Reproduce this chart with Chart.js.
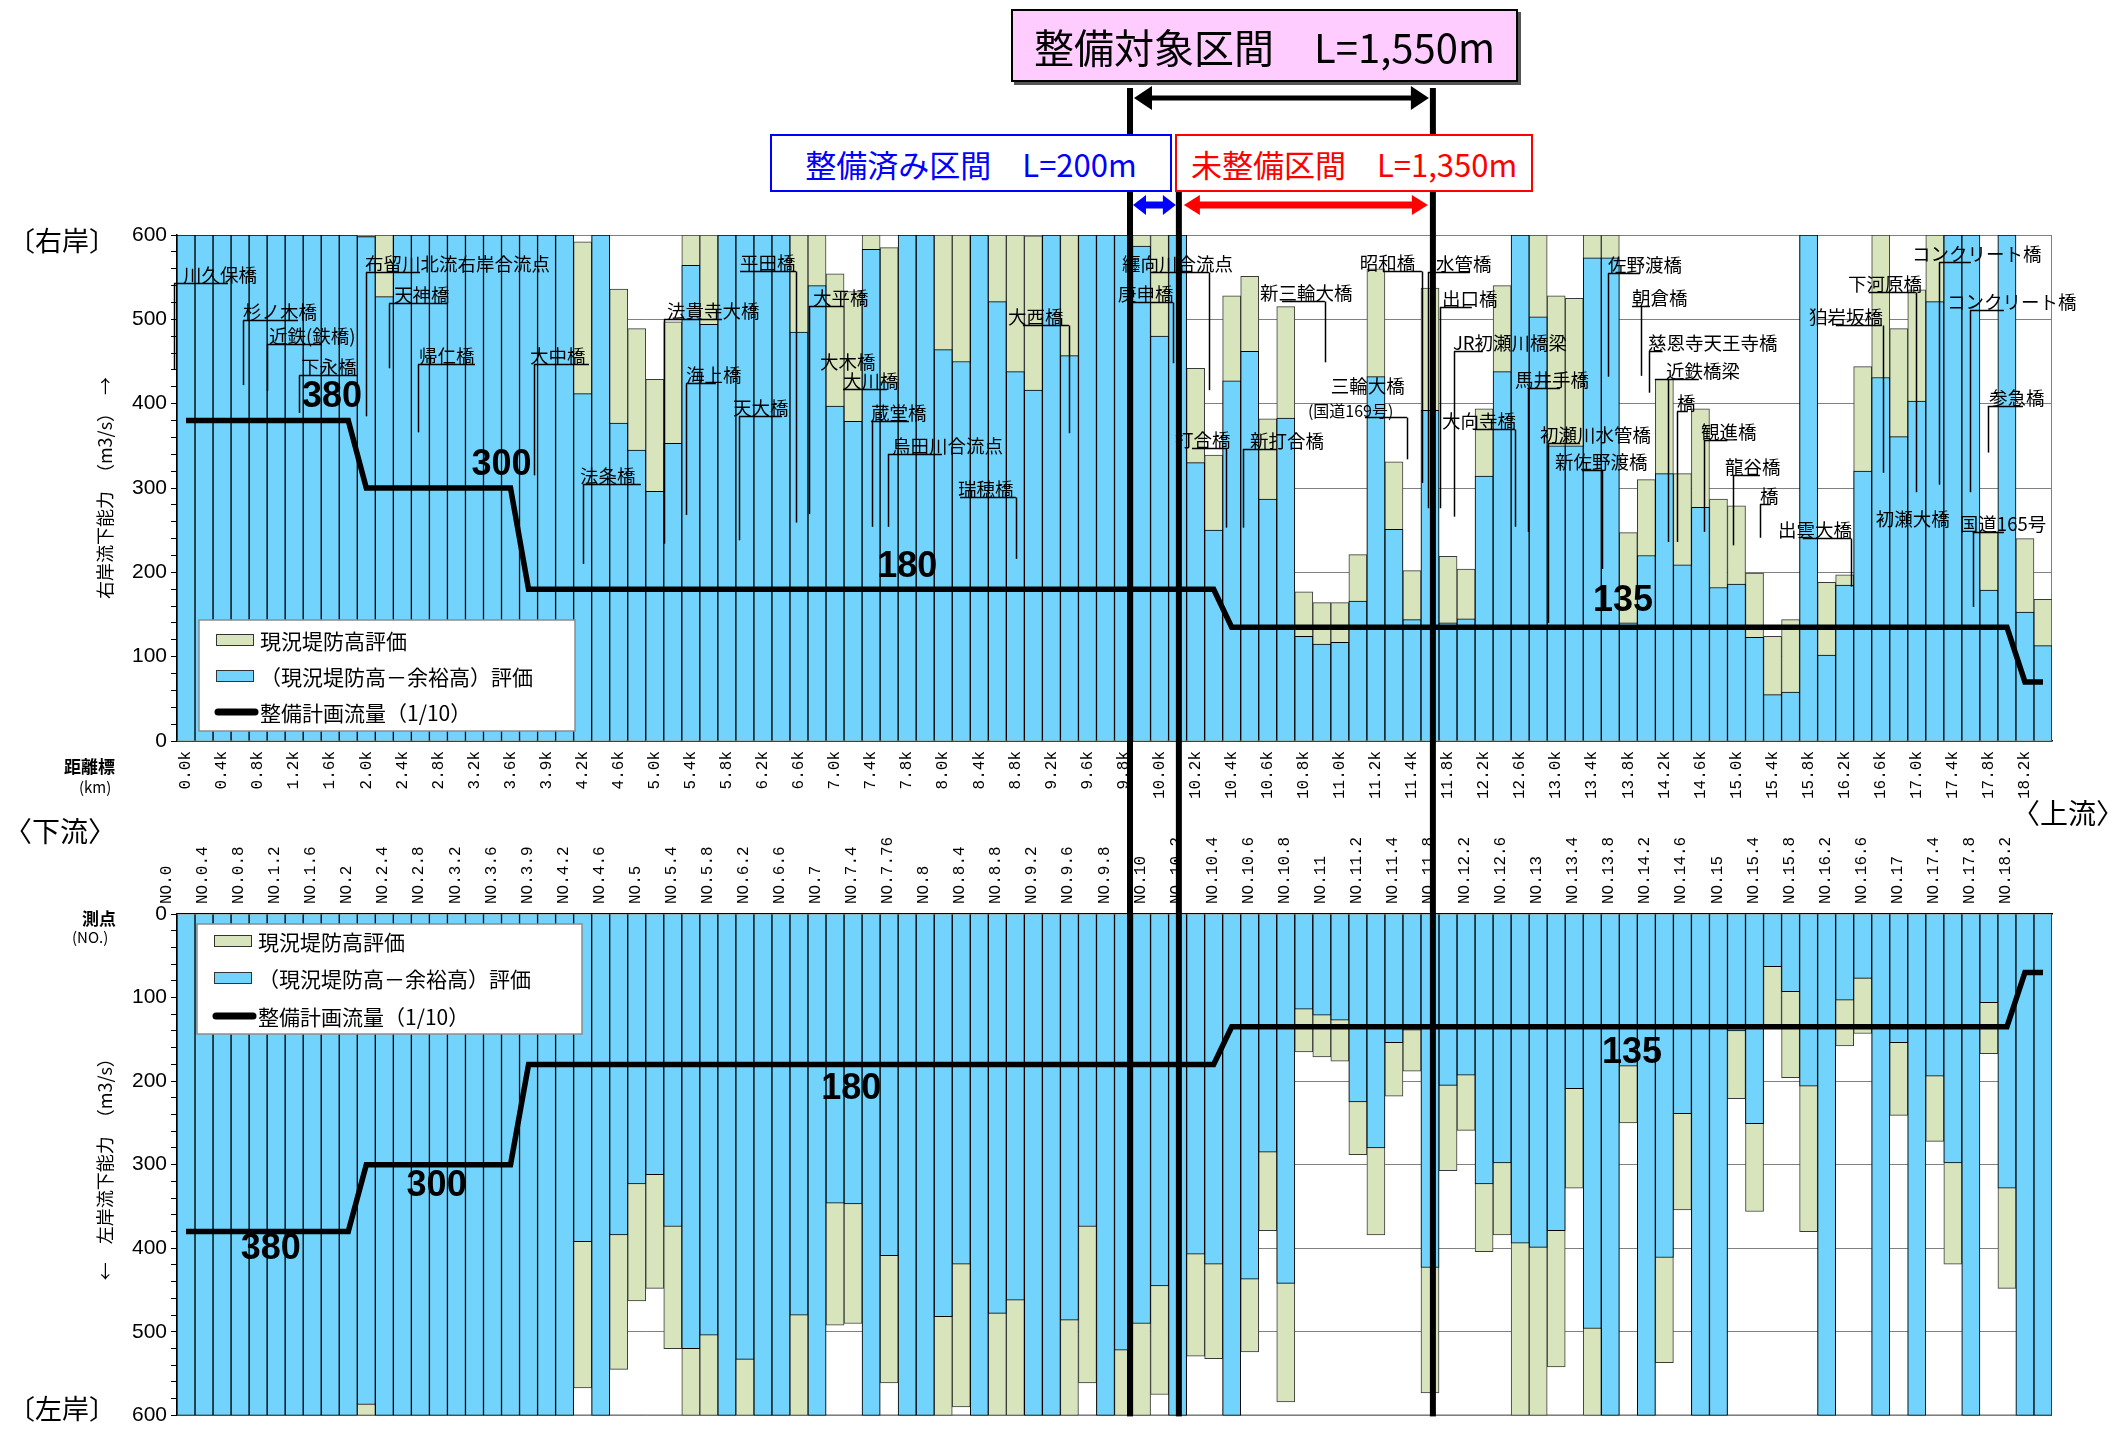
<!DOCTYPE html>
<html lang="ja">
<head>
<meta charset="utf-8">
<title>流下能力図</title>
<script src="https://cdn.jsdelivr.net/npm/chart.js@4.4.1/dist/chart.umd.min.js"></script>
<style>
  html, body { margin: 0; padding: 0; background: #fff; }
  body { position: relative; width: 2110px; height: 1432px; overflow: hidden;
         font-family: "Noto Sans CJK JP", "Noto Sans", sans-serif; color: #000; }
  canvas { position: absolute; left: 0; }
  #rightChart { top: 200px; }
  #leftChart { top: 820px; }
  #overlay { top: 0; z-index: 5; pointer-events: none; }
  .box { position: absolute; box-sizing: border-box; display: flex; align-items: center;
         justify-content: center; background: #fff; white-space: nowrap; z-index: 6; line-height: 1; }
  #target { left: 1011px; top: 9px; width: 507px; height: 73px; background: #ffccff;
            border: 2px solid #000; box-shadow: 3px 3px 0 #555; font-size: 40px; }
  #done { left: 770px; top: 134px; width: 402px; height: 58px; border: 2px solid #0000ff;
          color: #0000ff; font-size: 31px; }
  #todo { left: 1175px; top: 134px; width: 358px; height: 58px; border: 2px solid #ff0000;
          color: #ff0000; font-size: 31px; }
  .side { position: absolute; line-height: 1; white-space: nowrap; }
</style>
</head>
<body>
<canvas id="rightChart" width="2110" height="620"></canvas>
<canvas id="leftChart" width="2110" height="612"></canvas>
<canvas id="overlay" width="2110" height="1432"></canvas>

<div class="box" id="target">整備対象区間　L=1,550m</div>
<div class="box" id="done">整備済み区間　L=200m</div>
<div class="box" id="todo">未整備区間　L=1,350m</div>

<div class="side" style="left:8px;top:226px;font-size:27px;">〔右岸〕</div>
<div class="side" style="left:8px;top:1394px;font-size:27px;">〔左岸〕</div>
<div class="side" style="left:4px;top:816px;font-size:28px;">〈下流〉</div>
<div class="side" style="left:2012px;top:798px;font-size:28px;">〈上流〉</div>
<div class="side" style="left:64px;top:757px;font-size:17px;font-weight:bold;">距離標</div>
<div class="side" style="left:79px;top:779px;font-size:15px;">(km)</div>
<div class="side" style="left:82px;top:909px;font-size:17px;font-weight:bold;">測点</div>
<div class="side" style="left:72px;top:929px;font-size:15px;">(NO.)</div>

<script>
// 距離標（2区間ごとに表示）
const kmTicks = ['0.0k','0.4k','0.8k','1.2k','1.6k','2.0k','2.4k','2.8k','3.2k','3.6k',
  '3.9k','4.2k','4.6k','5.0k','5.4k','5.8k','6.2k','6.6k','7.0k','7.4k',
  '7.8k','8.0k','8.4k','8.8k','9.2k','9.6k','9.8k','10.0k','10.2k','10.4k',
  '10.6k','10.8k','11.0k','11.2k','11.4k','11.8k','12.2k','12.6k','13.0k','13.4k',
  '13.8k','14.2k','14.6k','15.0k','15.4k','15.8k','16.2k','16.6k','17.0k','17.4k',
  '17.8k','18.2k'];

// 測点
const noTicks = ['NO.0','NO.0.4','NO.0.8','NO.1.2','NO.1.6','NO.2','NO.2.4','NO.2.8','NO.3.2','NO.3.6',
  'NO.3.9','NO.4.2','NO.4.6','NO.5','NO.5.4','NO.5.8','NO.6.2','NO.6.6','NO.7','NO.7.4',
  'NO.7.76','NO.8','NO.8.4','NO.8.8','NO.9.2','NO.9.6','NO.9.8','NO.10','NO.10.2','NO.10.4',
  'NO.10.6','NO.10.8','NO.11','NO.11.2','NO.11.4','NO.11.8','NO.12.2','NO.12.6','NO.13','NO.13.4',
  'NO.13.8','NO.14.2','NO.14.6','NO.15','NO.15.4','NO.15.8','NO.16.2','NO.16.6','NO.17','NO.17.4',
  'NO.17.8','NO.18.2'];

// 整備計画流量（1/10） m3/s
const planFlow = [
  380,380,380,380,380,380,380,380,380,380,
  300,300,300,300,300,300,300,300,300,180,
  180,180,180,180,180,180,180,180,180,180,
  180,180,180,180,180,180,180,180,180,180,
  180,180,180,180,180,180,180,180,180,180,
  180,180,180,180,180,180,180,180,135,135,
  135,135,135,135,135,135,135,135,135,135,
  135,135,135,135,135,135,135,135,135,135,
  135,135,135,135,135,135,135,135,135,135,
  135,135,135,135,135,135,135,135,135,135,
  135,135,70,70];

// 右岸 （現況堤防高－余裕高）評価
const rightMargin = [
  600,600,600,600,600,600,600,600,600,600,
  598,527,600,600,600,600,600,600,600,600,
  600,600,412,600,377,345,296,353,564,494,
  600,600,600,600,485,540,397,379,583,426,
  600,600,464,450,600,521,438,416,600,457,
  600,600,600,587,480,600,330,250,427,462,
  287,383,124,115,117,166,432,251,144,392,
  140,145,314,438,600,503,350,350,573,573,
  140,220,317,209,277,182,186,123,55,58,
  600,102,185,320,431,361,403,521,600,600,
  179,600,153,113];

// 右岸 現況堤防高評価
const rightLevee = [
  600,600,600,600,600,600,600,600,600,600,
  598,600,600,600,600,600,600,600,600,600,
  600,600,592,600,536,489,429,497,600,600,
  600,600,600,600,600,600,554,533,600,585,
  600,600,600,600,600,600,600,599,600,600,
  600,600,600,600,600,600,442,339,528,551,
  382,515,177,164,164,221,560,331,202,537,
  219,204,394,540,600,600,528,525,600,600,
  247,310,429,317,394,287,279,199,124,144,
  600,188,197,444,600,489,535,600,600,600,
  248,600,240,168];

// 左岸 （現況堤防高－余裕高）評価
const leftMargin = [
  600,600,600,600,600,600,600,600,600,600,
  587,600,600,600,600,600,600,600,600,600,
  600,600,392,600,384,323,312,374,520,504,
  600,533,600,600,480,600,346,347,600,409,
  600,600,482,419,600,478,462,600,600,486,
  374,600,522,490,445,600,407,419,600,437,
  285,442,114,121,127,225,280,154,139,423,
  205,193,323,298,394,399,379,209,496,600,
  182,600,411,239,600,600,140,251,63,93,
  206,600,103,77,600,154,600,194,298,600,
  106,328,600,600];

// 左岸 現況堤防高評価
const leftLevee = [
  600,600,600,600,600,600,600,600,600,600,
  600,600,600,600,600,600,600,600,600,600,
  600,600,567,600,545,463,448,520,600,600,
  600,600,600,600,600,600,492,490,600,561,
  600,600,600,590,600,600,600,600,600,600,
  561,600,600,600,575,600,529,532,600,524,
  379,584,165,171,176,288,384,218,188,573,
  307,259,404,384,600,600,542,328,600,600,
  250,600,537,354,600,600,221,356,137,196,
  380,600,158,143,600,241,600,272,419,600,
  167,448,600,600];

// 区間境界（測点位置）: 整備対象区間始点, 整備済み区間終点, 整備対象区間終点
const sectionBounds = [52.36, 55.07, 69.16];

// 流量ラベル [文字, 測点位置, 値]
const rightLevels = [['380', 8.1, 408], ['300', 17.5, 327], ['180', 40.0, 206], ['135', 79.7, 166]];
const leftLevels = [['380', 4.7, 401], ['300', 13.9, 326], ['180', 36.9, 210], ['135', 80.2, 167]];

// 構造物名 [名称, 文字位置, 下線の値, 下線始点, 下線終点, 引出線位置, 引出線終点値, 文字サイズ]
const bridgeNotes = [
  ['川久保橋', -0.17, 543, -0.67, 2.33, -0.67, 440],
  ['杉ノ木橋', 3.16, 499, 3.16, 6.21, 3.16, 422],
  ['近鉄(鉄橋)', 4.6, 471, 4.49, 7.49, 4.49, 415],
  ['下永橋', 6.38, 434, 6.27, 9.48, 6.27, 389],
  ['布留川北流右岸合流点', 9.93, 556, 9.98, 12.98, 9.98, 385],
  ['天神橋', 11.54, 519, 11.26, 14.53, 11.26, 442],
  ['帰仁橋', 12.92, 447, 12.87, 16.03, 12.87, 366],
  ['大中橋', 19.08, 447, 19.3, 22.35, 19.3, 315],
  ['法条橋', 21.85, 305, 22.02, 25.23, 22.02, 210],
  ['法貴寺大橋', 26.68, 500, 26.51, 29.73, 26.51, 234],
  ['海上橋', 27.73, 425, 27.73, 29.39, 27.73, 268],
  ['天大橋', 30.34, 385, 30.67, 33.06, 30.67, 238],
  ['平田橋', 30.73, 557, 30.73, 33.83, 33.83, 259],
  ['大平橋', 34.77, 516, 34.55, 36.49, 34.55, 269],
  ['大木橋', 35.16, 440, null, null, null, null],
  ['大川橋', 36.44, 417, 36.44, 38.88, null, null],
  ['蔵堂橋', 37.99, 379, 37.99, 40.1, 38.05, 254],
  ['烏田川合流点', 39.16, 340, 38.93, 41.93, 38.93, 254],
  ['瑞穂橋', 42.82, 289, 42.93, 46.03, 46.03, 216],
  ['大西橋', 45.59, 493, 46.42, 48.97, 48.97, 365],
  ['纒向川合流点', 51.91, 556, 53.47, 56.74, 56.74, 416],
  ['庚申橋', 51.69, 521, 52.36, 54.74, 54.74, 448],
  ['打合橋', 54.85, 347, 55.8, 57.68, 57.68, 253],
  ['新打合橋', 59.01, 346, 58.62, 60.51, 58.62, 253],
  ['新三輪大橋', 59.57, 522, 60.79, 63.17, 63.17, 449],
  ['三輪大橋', 63.5, 412, null, null, null, null],
  ['(国道169号)', 62.23, 384, 65.39, 67.72, 67.72, 334, 16],
  ['昭和橋', 65.11, 557, 66.39, 68.55, 68.55, 306],
  ['水管橋', 69.33, 556, 68.88, 71.2, 68.88, 276],
  ['出口橋', 69.66, 515, 69.55, 71.32, 69.55, 276],
  ['JR初瀬川橋梁', 70.27, 462, 70.33, 71.93, 70.33, 266],
  ['大向寺橋', 69.66, 370, 71.49, 73.71, 73.71, 254],
  ['馬井手橋', 73.71, 419, 74.43, 76.2, 74.43, 248],
  ['初瀬川水管橋', 75.1, 353, 75.54, 77.31, 75.54, 140],
  ['新佐野渡橋', 75.93, 321, 77.42, 78.59, 78.53, 204],
  ['佐野渡橋', 78.87, 555, 78.87, 80.64, 78.87, 432],
  ['朝倉橋', 80.2, 516, 80.2, 81.2, 80.7, 433],
  ['慈恩寺天王寺橋', 81.09, 462, 81.14, 81.9, 81.14, 413],
  ['近鉄橋梁', 82.09, 429, 81.47, 83.91, 82.2, 236],
  ['橋', 82.7, 391, 82.7, 83.3, 82.7, 236],
  ['観進橋', 84.03, 357, 84.2, 85.5, 84.2, 248],
  ['龍谷橋', 85.36, 315, 85.8, 87.3, 85.8, 232],
  ['橋', 87.3, 281, 87.3, 87.9, 87.3, 241],
  ['出雲大橋', 88.3, 241, 89.68, 92.35, 92.35, 183],
  ['狛岩坂橋', 90.02, 493, 91.51, 94.06, 94.12, 318],
  ['下河原橋', 92.18, 532, 93.34, 95.95, 95.95, 295],
  ['コンクリート橋', 95.73, 568, 97.23, 99.0, 97.23, 304],
  ['コンクリート橋', 97.67, 511, 98.95, 100.83, 98.95, 295],
  ['参急橋', 100.0, 397, 99.94, 101.89, 99.94, 342],
  ['初瀬大橋', 93.73, 254, null, null, null, null],
  ['国道165号', 98.39, 248, 99.1, 100.83, 99.1, 159]
];

Chart.defaults.font.family = '"Noto Sans CJK JP", "Liberation Sans", sans-serif';
Chart.defaults.color = '#000';

const numFont = '"Liberation Sans Narrow", "Liberation Sans", Arial, sans-serif';

// 描画領域の枠
const frame = {
  id: 'frame',
  beforeDatasetsDraw(chart) {
    const { ctx, chartArea: a } = chart;
    ctx.save();
    ctx.strokeStyle = '#808080';
    ctx.lineWidth = 1;
    ctx.strokeRect(a.left + 0.5, a.top + 0.5, a.width - 1, a.height - 1);
    ctx.restore();
  }
};

// 枠付き凡例（グラフ内）
const boxLegend = {
  id: 'boxLegend',
  afterDraw(chart, args, o) {
    const { ctx, chartArea: a } = chart;
    const x = a.left + o.x, y = a.top + o.y;
    const ds = chart.data.datasets;
    const items = [ds[2], ds[1], ds[0]];
    ctx.save();
    ctx.fillStyle = '#fff';
    ctx.fillRect(x, y, o.w, o.h);
    ctx.strokeStyle = '#8c8c8c';
    ctx.lineWidth = 1.5;
    ctx.strokeRect(x, y, o.w, o.h);
    ctx.font = '21px "Noto Sans CJK JP"';
    ctx.textBaseline = 'middle';
    items.forEach((d, i) => {
      const cy = y + o.rows[i];
      if (d.type === 'line') {
        ctx.strokeStyle = d.borderColor;
        ctx.lineWidth = 7;
        ctx.lineCap = 'round';
        ctx.beginPath();
        ctx.moveTo(x + 19, cy);
        ctx.lineTo(x + 56, cy);
        ctx.stroke();
      } else {
        ctx.fillStyle = d.backgroundColor;
        ctx.fillRect(x + 17, cy - 6, 38, 12);
        ctx.strokeStyle = '#333';
        ctx.lineWidth = 1;
        ctx.strokeRect(x + 17.5, cy - 5.5, 37, 11);
      }
      ctx.fillStyle = '#000';
      ctx.fillText(d.label, x + 61, cy + 1);
    });
    ctx.restore();
  }
};

// 流量値ラベル
const levelLabels = {
  id: 'levelLabels',
  afterDatasetsDraw(chart, args, o) {
    const { ctx, scales: { x, y } } = chart;
    ctx.save();
    ctx.font = 'bold 36px ' + numFont;
    ctx.textAlign = 'center';
    ctx.textBaseline = 'middle';
    ctx.fillStyle = '#000';
    o.items.forEach(([t, i, v]) => ctx.fillText(t, x.getPixelForValue(i), y.getPixelForValue(v)));
    ctx.restore();
  }
};

// 構造物名と引出線
const notes = {
  id: 'notes',
  afterDatasetsDraw(chart, args, o) {
    if (!o.items) return;
    const { ctx, scales: { x, y } } = chart;
    ctx.save();
    ctx.fillStyle = '#000';
    ctx.strokeStyle = '#000';
    ctx.lineWidth = 1.5;
    ctx.textBaseline = 'bottom';
    o.items.forEach(([t, tx, uy, u1, u2, lx, ly, fs]) => {
      const py = Math.round(y.getPixelForValue(uy)) + 0.5;
      if (u1 !== null) {
        ctx.beginPath();
        ctx.moveTo(x.getPixelForValue(u1), py);
        ctx.lineTo(x.getPixelForValue(u2), py);
        ctx.stroke();
      }
      if (lx !== null) {
        const px = Math.round(x.getPixelForValue(lx)) + 0.5;
        ctx.beginPath();
        ctx.moveTo(px, py);
        ctx.lineTo(px, y.getPixelForValue(ly));
        ctx.stroke();
      }
      ctx.font = (fs || 18.5) + 'px "Noto Sans CJK JP"';
      ctx.fillText(t, x.getPixelForValue(tx), py + 1);
    });
    ctx.restore();
  }
};

function bankChart(id, ticks, margin, levee, cfg) {
  const labels = ticks.flatMap(t => [t, '']);
  return new Chart(document.getElementById(id), {
    type: 'bar',
    data: {
      labels,
      datasets: [
        { type: 'line', label: '整備計画流量（1/10）', data: planFlow, borderColor: '#000',
          borderWidth: 5.5, pointRadius: 0, tension: 0, order: 0 },
        { label: '（現況堤防高－余裕高）評価', data: margin, backgroundColor: '#72d4fd',
          borderColor: '#000', borderWidth: 1, order: 1 },
        { label: '現況堤防高評価', data: levee, backgroundColor: '#d8e4bc',
          borderColor: '#3a3a3a', borderWidth: 1, order: 2 }
      ]
    },
    options: {
      responsive: false,
      animation: false,
      devicePixelRatio: 1,
      layout: { padding: cfg.padding },
      datasets: { bar: { barPercentage: 1, categoryPercentage: 1 } },
      plugins: {
        legend: { display: false },
        tooltip: { enabled: false },
        boxLegend: cfg.legend,
        levelLabels: { items: cfg.levels },
        notes: { items: cfg.notes }
      },
      scales: {
        x: {
          stacked: true,
          position: cfg.xPos,
          grid: { display: false, drawTicks: false },
          border: { color: '#000', width: 1.5 },
          ticks: { autoSkip: false, minRotation: 90, maxRotation: 90, padding: 10,
                   font: { family: '"Liberation Mono", "DejaVu Sans Mono", monospace', size: 16 } },
          afterFit: s => { s.height = cfg.xHeight; }
        },
        y: {
          min: 0, max: 600,
          reverse: cfg.reverse,
          ticks: { stepSize: 20, autoSkip: false, padding: 4,
                   font: { family: numFont, size: 21 },
                   callback: v => (v % 100 === 0 ? v : '') },
          grid: { color: c => (c.tick && c.tick.value % 100 === 0 ? '#808080' : 'rgba(0,0,0,0)'),
                  tickColor: '#000', tickLength: 6, lineWidth: 1 },
          border: { color: '#000', width: 1.5 },
          title: { display: true, text: cfg.yTitle, font: { size: 18 }, padding: { top: 2, bottom: 0 } },
          afterFit: s => { s.width = 85; }
        }
      }
    },
    plugins: [frame, notes, levelLabels, boxLegend]
  });
}

const rightChart = bankChart('rightChart', kmTicks, rightMargin, rightLevee, {
  padding: { left: 92, right: 58, top: 35, bottom: 0 },
  xPos: 'bottom', xHeight: 79, reverse: false,
  yTitle: '右岸流下能力　（m3/s）　→',
  legend: { x: 22, y: 385, w: 376, h: 111, rows: [20, 56, 92] },
  levels: rightLevels,
  notes: bridgeNotes
});

const leftChart = bankChart('leftChart', noTicks, leftMargin, leftLevee, {
  padding: { left: 92, right: 58, top: 0, bottom: 16 },
  xPos: 'top', xHeight: 94, reverse: true,
  yTitle: '←　左岸流下能力　（m3/s）',
  legend: { x: 20, y: 10, w: 385, h: 110, rows: [17, 54, 92] },
  levels: leftLevels,
  notes: null
});

function arrow(ctx, x1, x2, y, color, shaft, headL, headH) {
  ctx.fillStyle = color;
  ctx.fillRect(x1 + headL - 1, y - shaft / 2, (x2 - x1) - 2 * headL + 2, shaft);
  ctx.beginPath();
  ctx.moveTo(x1, y); ctx.lineTo(x1 + headL, y - headH); ctx.lineTo(x1 + headL, y + headH);
  ctx.closePath(); ctx.fill();
  ctx.beginPath();
  ctx.moveTo(x2, y); ctx.lineTo(x2 - headL, y - headH); ctx.lineTo(x2 - headL, y + headH);
  ctx.closePath(); ctx.fill();
}

// 区間境界線と矢印
function drawSections() {
  const ctx = document.getElementById('overlay').getContext('2d');
  const [a, b, c] = sectionBounds.map(v => rightChart.scales.x.getPixelForValue(v));
  const yEnd = 820 + leftChart.chartArea.bottom + 1;
  ctx.fillStyle = '#000';
  ctx.fillRect(a - 3, 88, 6, yEnd - 88);
  ctx.fillRect(b - 3, 192, 6, yEnd - 192);
  ctx.fillRect(c - 3, 88, 6, yEnd - 88);
  arrow(ctx, a + 4, c - 4, 98, '#000', 5, 18, 12);
  arrow(ctx, a + 3, b - 3, 205, '#0000ff', 7, 13, 10);
  arrow(ctx, b + 5, c - 5, 205, '#ff0000', 7, 16, 10);
}
drawSections();
</script>
</body>
</html>
